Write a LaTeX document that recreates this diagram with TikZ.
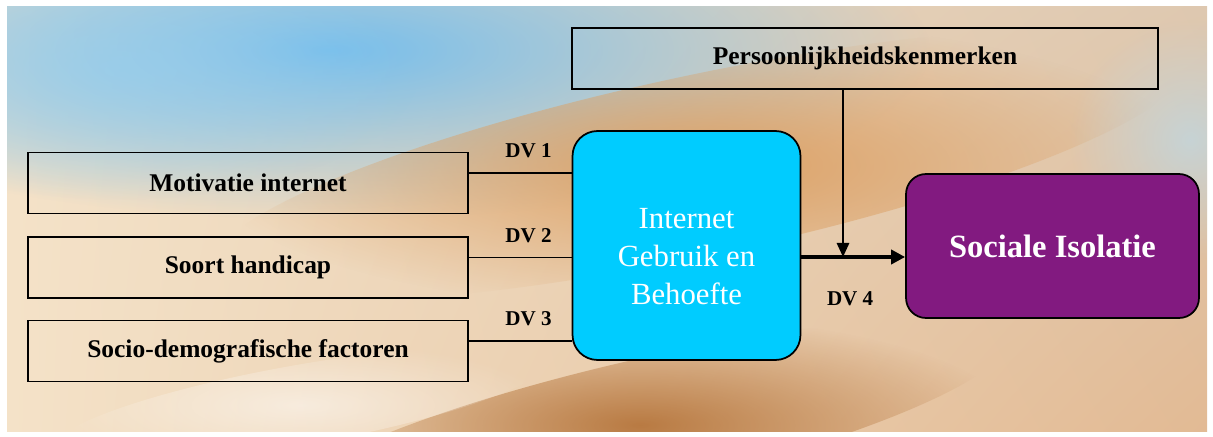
\documentclass[tikz,border=0pt]{standalone}
\usepackage{fontspec}
\setmainfont{Liberation Serif}
\usetikzlibrary{arrows.meta,fadings,shadings}

\definecolor{bgsky}{RGB}{150,206,238}
\definecolor{bgblue}{RGB}{118,190,236}
\definecolor{bgtan}{RGB}{222,200,176}
\definecolor{bgcream}{RGB}{244,226,200}
\definecolor{bgpeach}{RGB}{226,186,148}
\definecolor{bgorange}{RGB}{220,160,100}
\definecolor{bgbrown}{RGB}{176,108,48}
\definecolor{boxcyan}{RGB}{0,204,255}
\definecolor{boxpurple}{RGB}{130,26,128}

\tikzfading[name=softspot, inner color=transparent!0, outer color=transparent!100]

\begin{document}
\begin{tikzpicture}
    [
    x=0.02cm, y=-0.02cm,
    factor/.style={
      draw=black,
      line width=1pt,
      minimum width=8.8cm,
      minimum height=1.22cm,
      font=\fontsize{14.5}{16}\selectfont\bfseries
    },
    usage/.style={
      draw=black,
      line width=1pt,
      fill=boxcyan,
      rounded corners=0.5cm,
      minimum width=4.56cm,
      minimum height=4.58cm,
      align=center,
      text=white,
      font=\fontsize{17.5}{21.5}\selectfont
    },
    outcome/.style={
      draw=black,
      line width=1pt,
      fill=boxpurple,
      rounded corners=0.4cm,
      minimum width=5.86cm,
      minimum height=2.88cm,
      text=white,
      font=\fontsize{18.5}{22}\selectfont\bfseries
    },
    dvtag/.style={
      font=\fontsize{12}{14}\selectfont\bfseries
    },
    link/.style={
      line width=1.1pt
    },
    effect/.style={
      line width=2pt,
      -{Triangle[length=8pt,width=8pt]}
    },
    moderator/.style={
      line width=1.2pt,
      -{Triangle[length=8pt,width=7pt]}
    }
    ]
    \useasboundingbox (0,0) rectangle (1213,436);

    % background
    \begin{scope}
      \clip (7,6) rectangle (1207,431);
      \shade[upper left=bgcream, upper right=bgtan, lower left=bgcream, lower right=bgpeach]
        (7,6) rectangle (1207,431);
      \fill[bgblue, path fading=softspot] (330,50) ellipse (12cm and 3.4cm);
      \fill[bgsky, opacity=0.7, path fading=softspot] (120,70) ellipse (6cm and 2.6cm);
      \fill[bgorange, path fading=softspot, rotate around={12:(700,165)}]
        (700,165) ellipse (10cm and 1.8cm);
      \fill[bgbrown, opacity=0.85, path fading=softspot, rotate around={13:(640,425)}]
        (640,425) ellipse (7.5cm and 1.3cm);
      \fill[white, opacity=0.5, path fading=softspot, rotate around={10:(300,405)}]
        (300,405) ellipse (5cm and 0.8cm);
      \fill[bgsky!70!white, opacity=0.6, path fading=softspot] (1190,140) ellipse (2.4cm and 2.4cm);
    \end{scope}

    % boxes
    \node (motiv) at (248,183) [factor] {Motivatie internet};
    \node (soort) at (248,267.5) [factor] {Soort handicap};
    \node (socio) at (248,351) [factor] {Socio-demografische factoren};
    \node (pers) at (865,58.5) [factor, minimum width=11.72cm] {Persoonlijkheidskenmerken};
    \node (inet) at (686.5,245.5) [usage]
      {\raisebox{-0.42cm}[0pt][0pt]{\begin{tabular}{@{}c@{}}Internet\\Gebruik en\\Behoefte\end{tabular}}};
    \node (isol) at (1052.5,246) [outcome] {Sociale Isolatie};

    % links
    \draw[link] ([yshift=0.2cm]motiv.east) coordinate (dv1) -- (dv1 -| inet.west)
      node[dvtag, pos=0.58, above=4.5pt] (dv1lab) {DV 1};
    \draw[link] ([yshift=0.2cm]soort.east) coordinate (dv2) -- (dv2 -| inet.west)
      node[dvtag, pos=0.58, above=4.5pt] (dv2lab) {DV 2};
    \draw[link] ([yshift=0.2cm]socio.east) coordinate (dv3) -- (dv3 -| inet.west)
      node[dvtag, pos=0.58, above=4.5pt] (dv3lab) {DV 3};
    \draw[effect] ([yshift=-0.23cm]inet.east) coordinate (dv4) -- (dv4 -| isol.west)
      node[dvtag, pos=0.47, below=15.5pt] (dv4lab) {DV 4};
    \draw[moderator] ([xshift=-0.44cm]pers.south) coordinate (mod) -- (mod |- dv4);
  \end{tikzpicture}
\end{document}
